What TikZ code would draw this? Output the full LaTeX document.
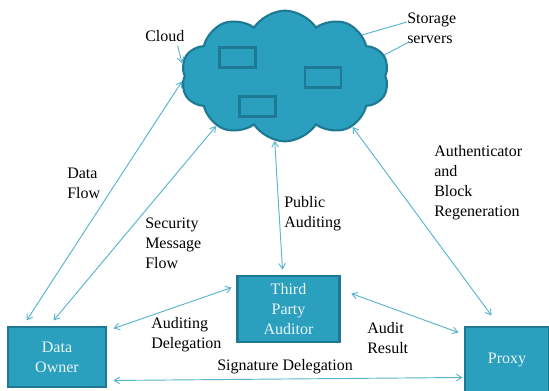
\documentclass[tikz,border=0pt]{standalone}
\usepackage{fontspec}
\setmainfont{Liberation Serif}
\usetikzlibrary{shapes.symbols,arrows.meta,calc}
\definecolor{tealfill}{RGB}{43,160,190}
\definecolor{tealedge}{RGB}{30,122,148}
\definecolor{flowline}{RGB}{88,180,206}
\begin{document}
\begin{tikzpicture}[x=0.75pt, y=-0.75pt,
        every node/.style={font=\fontsize{12}{15}\selectfont},
        party/.style={draw=tealedge, fill=tealfill, line width=2.2pt, text=white!90!tealfill, align=center},
        srv/.style={draw=tealedge, fill=tealfill, line width=1.8pt, minimum width=27pt, minimum height=15pt, inner sep=0},
        lbl/.style={anchor=north west, inner sep=0, align=left},
        flow/.style={draw=flowline, line width=0.7pt, {Straight Barb[length=4pt,width=5pt]}-{Straight Barb[length=4pt,width=5pt]}}]
        \useasboundingbox (0,0) rectangle (549,390);
        % cloud with its storage servers
        \node[cloud, cloud puffs=10, cloud puff arc=115, aspect=1.6, draw=tealedge, fill=tealfill, line width=1.6pt,
              minimum width=156pt, minimum height=98pt, inner sep=0] (cloud) at (285,76) {};
        \node[srv] (srv1) at (237.5,57.5) {};
        \node[srv] (srv2) at (323,77.5) {};
        \node[srv] (srv3) at (257.5,106.5) {};
        % parties
        \node[party, minimum width=73.5pt, minimum height=45pt] (owner) at (57,357) {Data\\Owner};
        \node[party, minimum width=77pt, minimum height=49.5pt] (tpa) at (288.5,309) {Third\\Party\\Auditor};
        \node[party, minimum width=63pt, minimum height=49.5pt] (proxy) at (507,360) {Proxy};
        % labels
        \node[lbl] (cloudlbl) at (145,30) {Cloud};
        \node[lbl] (storage) at (407,13) {Storage\\servers};
        \node[lbl] (dflow) at (67,168) {Data\\Flow};
        \node[lbl] (secmsg) at (145,218) {Security\\Message\\Flow};
        \node[lbl] (pubaud) at (284,196) {Public\\Auditing};
        \node[lbl] (authblk) at (434,145) {Authenticator\\and\\Block\\Regeneration};
        \node[lbl] (auddel) at (151,317) {Auditing\\Delegation};
        \node[lbl] (audres) at (367,322) {Audit\\Result};
        \node[lbl] (sigdel) at (217,359) {Signature Delegation};
        % pointers
        \draw[flowline, line width=0.7pt, -{Straight Barb[length=4pt,width=5pt]}] ($(cloudlbl.south east)+(-7,4)$) -- (cloud.173);
        \draw[flowline, line width=0.7pt] ($(storage.north west)+(0,9)$) -- (cloud.28);
        \draw[flowline, line width=0.7pt] ($(storage.north west)+(2,29)$) -- (cloud.12);
        % flows
        \draw[flow] ($(owner.north west)+(20,-5)$) -- (cloud.183);
        \draw[flow] ($(owner.north west)+(47,-5)$) -- (cloud.216);
        \draw[flow] (cloud.261) -- ($(tpa.north)+(-6,-5)$);
        \draw[flow] (cloud.323) -- ($(proxy.north west)+(28,-10)$);
        \draw[flow] ($(owner.north east)+(6,3)$) -- ($(tpa.north west)+(-4,13)$);
        \draw[flow] ($(tpa.north east)+(10,19)$) -- ($(proxy.north west)+(-5,7)$);
        \draw[flow] ($(owner.south east)+(6,-8)$) -- ($(proxy.south west)+(-1,-17)$);
\end{tikzpicture}
\end{document}
